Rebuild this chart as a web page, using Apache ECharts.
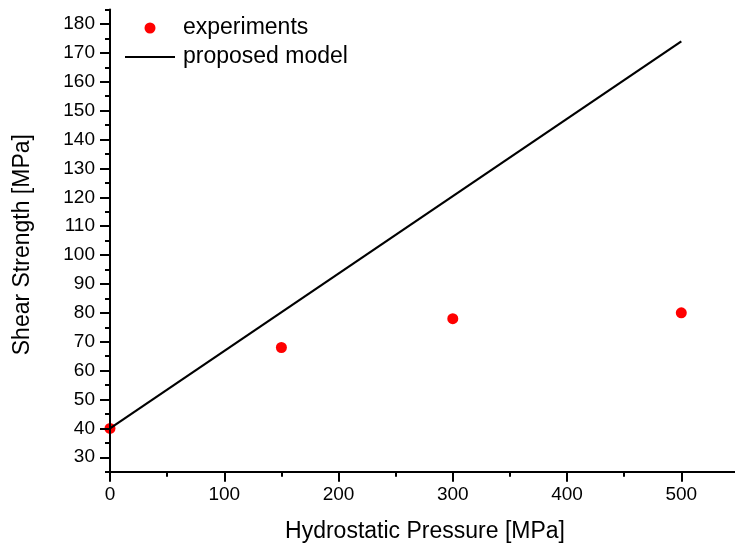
<!DOCTYPE html>
<html>
<head>
<meta charset="utf-8">
<script src="https://cdn.jsdelivr.net/npm/echarts@6/dist/echarts.min.js"></script>
<style>
html,body{margin:0;padding:0;background:#fff;}
#chart{width:735px;height:548px;}
</style>
</head>
<body>
<div id="chart"></div>
<script>
// Data
var pressure = [0, 150, 300, 500];
var experiments = [40, 68, 78, 80];
var modelPressure = [0, 500];
var modelStrength = [40, 174];
var yMajorTicks = [30, 40, 50, 60, 70, 80, 90, 100, 110, 120, 130, 140, 150, 160, 170, 180];
var yMinorTicks = [25, 35, 45, 55, 65, 75, 85, 95, 105, 115, 125, 135, 145, 155, 165, 175, 185];
var xMajorTicks = [0, 100, 200, 300, 400, 500];
var xMinorTicks = [50, 150, 250, 350, 450];

var FONT = '"Liberation Sans", Arial, sans-serif';
var axisLineStyle = {color: '#000', width: 2};

var chart = echarts.init(document.getElementById('chart'), null, {renderer: 'canvas'});
chart.setOption({
  animation: false,
  backgroundColor: '#fff',
  grid: {left: 110, right: 0, top: 9.6, bottom: 76.3, containLabel: false},
  legend: {
    orient: 'vertical',
    left: 120,
    top: 11.5,
    itemWidth: 50,
    itemHeight: 11,
    itemGap: 6,
    symbolKeepAspect: true,
    textStyle: {fontFamily: FONT, fontSize: 23, color: '#000', lineHeight: 23, padding: [0, 0, 0, 3]},
    data: [
      {name: 'experiments', icon: 'circle', itemStyle: {color: '#ff0000', opacity: 1}},
      {name: 'proposed model', icon: 'path://M0,0L50,0L50,2.2L0,2.2Z', itemStyle: {color: '#000'}}
    ]
  },
  xAxis: [{
    type: 'value',
    z: 10,
    min: 0, max: 547, interval: 100,
    name: 'Hydrostatic Pressure [MPa]',
    nameLocation: 'middle',
    nameGap: 48,
    nameTextStyle: {fontFamily: FONT, fontSize: 23, color: '#000', padding: [0, 0, 0, 5]},
    axisLine: {show: true, lineStyle: axisLineStyle},
    axisTick: {show: true, length: 10, lineStyle: axisLineStyle, customValues: xMajorTicks},
    axisLabel: {fontFamily: FONT, fontSize: 19, color: '#000', margin: 14, customValues: xMajorTicks},
    splitLine: {show: false}
  }, {
    type: 'value',
    z: 10,
    min: 0, max: 547,
    position: 'bottom',
    axisLine: {show: false},
    axisTick: {show: true, length: 5, lineStyle: axisLineStyle, customValues: xMinorTicks},
    axisLabel: {show: false},
    splitLine: {show: false}
  }],
  yAxis: [{
    type: 'value',
    z: 10,
    min: 25, max: 185,
    name: 'Shear Strength [MPa]',
    nameLocation: 'middle',
    nameGap: 76,
    nameTextStyle: {fontFamily: FONT, fontSize: 23, color: '#000', padding: [0, 8, 0, 0]},
    axisLine: {show: true, lineStyle: axisLineStyle},
    axisTick: {show: true, length: 10, lineStyle: axisLineStyle, customValues: yMajorTicks},
    axisLabel: {fontFamily: FONT, fontSize: 19, color: '#000', margin: 15, customValues: yMajorTicks},
    splitLine: {show: false}
  }, {
    type: 'value',
    z: 10,
    min: 25, max: 185,
    position: 'left',
    offset: 0,
    axisLine: {show: false},
    axisTick: {show: true, length: 5, lineStyle: axisLineStyle, customValues: yMinorTicks},
    axisLabel: {show: false},
    splitLine: {show: false}
  }],
  series: [{
    name: 'proposed model',
    type: 'line',
    data: modelPressure.map(function (p, i) { return [p, modelStrength[i]]; }),
    symbol: 'none',
    lineStyle: {color: '#000', width: 2.2},
    itemStyle: {color: '#000'},
    z: 4
  }, {
    name: 'experiments',
    type: 'scatter',
    data: pressure.map(function (p, i) { return [p, experiments[i]]; }),
    symbol: 'circle',
    symbolSize: 11,
    itemStyle: {color: '#ff0000', opacity: 1},
    z: 3
  }]
});

// Mask the part of the markers that falls left of the plot area (the reference clips them)
var origin = chart.convertToPixel({gridIndex: 0}, [0, 25]);
var top = chart.convertToPixel({gridIndex: 0}, [0, 185]);
chart.setOption({
  graphic: [{
    type: 'rect',
    z: 5,
    shape: {x: origin[0] - 10, y: top[1], width: 9, height: origin[1] - top[1]},
    style: {fill: '#fff'},
    silent: true
  }]
});
</script>
</body>
</html>
